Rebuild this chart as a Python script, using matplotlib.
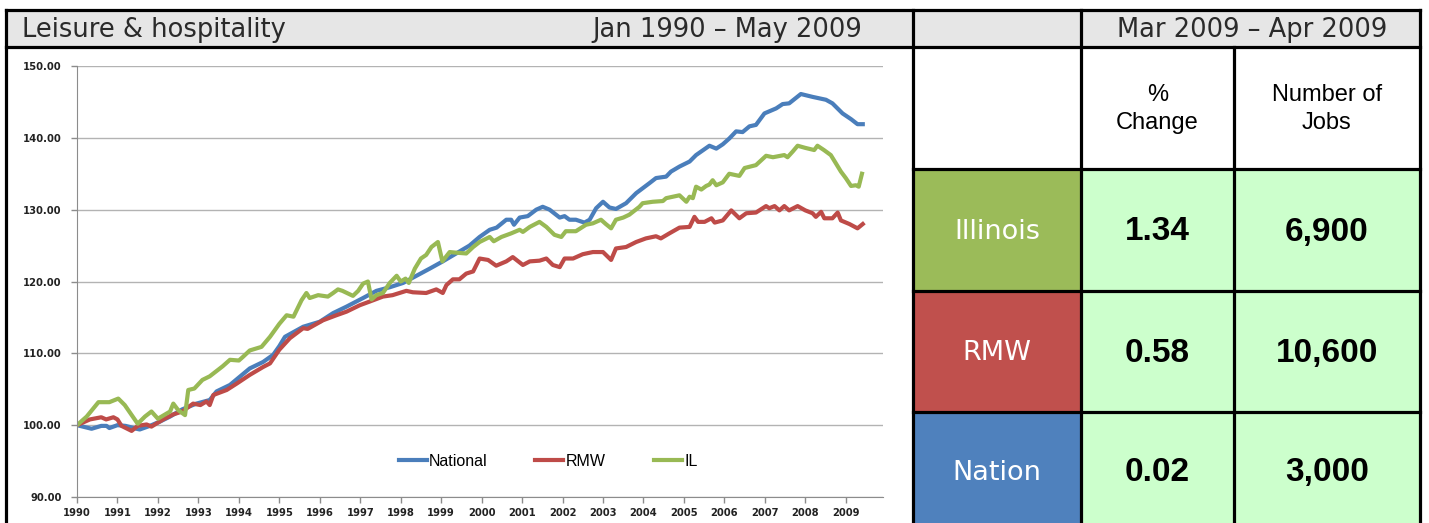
import matplotlib
matplotlib.use("Agg")
import matplotlib.pyplot as plt
from matplotlib.patches import Rectangle

# --- data (index, Jan 1990 = 100) ---
nat_years = [1990.0, 1990.36, 1990.6, 1990.73, 1990.8, 1991.0, 1991.2, 1991.47, 1991.55, 1991.8,
             1992.05, 1992.3, 1992.6, 1992.95, 1993.28, 1993.45, 1993.78, 1994.27, 1994.6, 1994.85,
             1995.0, 1995.14, 1995.59, 1996.0, 1996.33, 1996.66, 1997.07, 1997.4, 1997.73, 1998.06,
             1998.39, 1998.72, 1999.04, 1999.37, 1999.7, 1999.95, 2000.2, 2000.37, 2000.61, 2000.73,
             2000.8, 2000.94, 2001.14, 2001.35, 2001.51, 2001.68, 2001.93, 2002.05, 2002.17, 2002.33,
             2002.54, 2002.67, 2002.83, 2003.0, 2003.16, 2003.32, 2003.57, 2003.82, 2004.15, 2004.31,
             2004.56, 2004.68, 2004.89, 2005.14, 2005.3, 2005.63, 2005.8, 2005.96, 2006.12, 2006.29,
             2006.45, 2006.62, 2006.78, 2006.99, 2007.28, 2007.44, 2007.6, 2007.89, 2008.18, 2008.51,
             2008.67, 2008.92, 2009.13, 2009.29, 2009.42]
nat_vals = [100.0, 99.5, 99.9, 99.9, 99.6, 100.0, 99.9, 99.5, 99.4, 99.9,
            100.5, 101.2, 102.2, 103.0, 103.5, 104.7, 105.6, 107.9, 108.8, 109.8,
            111.0, 112.3, 113.7, 114.4, 115.6, 116.5, 117.7, 118.7, 119.2, 119.8,
            120.8, 121.8, 122.8, 123.9, 125.0, 126.2, 127.2, 127.5, 128.6, 128.6,
            127.9, 128.9, 129.1, 130.0, 130.4, 130.0, 128.9, 129.1, 128.6, 128.6,
            128.2, 128.6, 130.2, 131.1, 130.3, 130.1, 130.9, 132.3, 133.7, 134.4,
            134.6, 135.3, 136.0, 136.7, 137.6, 138.9, 138.5, 139.1, 139.9, 140.9,
            140.8, 141.6, 141.8, 143.4, 144.1, 144.7, 144.8, 146.1, 145.7, 145.3,
            144.8, 143.4, 142.6, 141.9, 141.9]

rmw_years = [1990.0, 1990.32, 1990.6, 1990.72, 1990.9, 1991.0, 1991.1, 1991.35, 1991.5, 1991.72,
             1991.84, 1992.13, 1992.38, 1992.6, 1992.87, 1993.05, 1993.2, 1993.28, 1993.37, 1993.7,
             1993.95, 1994.27, 1994.6, 1994.77, 1995.0, 1995.26, 1995.59, 1995.7, 1996.08, 1996.41,
             1996.66, 1996.99, 1997.23, 1997.56, 1997.8, 1998.14, 1998.3, 1998.63, 1998.88, 1999.04,
             1999.13, 1999.29, 1999.45, 1999.62, 1999.79, 1999.95, 2000.16, 2000.36, 2000.61, 2000.77,
             2001.02, 2001.19, 2001.43, 2001.6, 2001.76, 2001.93, 2002.05, 2002.26, 2002.5, 2002.75,
             2003.0, 2003.2, 2003.32, 2003.57, 2003.82, 2004.06, 2004.31, 2004.43, 2004.64, 2004.89,
             2005.14, 2005.26, 2005.35, 2005.51, 2005.68, 2005.76, 2005.96, 2006.17, 2006.37, 2006.54,
             2006.78, 2007.03, 2007.11, 2007.24, 2007.36, 2007.48, 2007.6, 2007.81, 2008.0, 2008.18,
             2008.26, 2008.39, 2008.47, 2008.67, 2008.8, 2008.88, 2009.09, 2009.29, 2009.42]
rmw_vals = [100.0, 100.8, 101.1, 100.8, 101.1, 100.8, 99.9, 99.2, 99.9, 100.1,
            99.8, 100.8, 101.5, 101.9, 103.0, 102.8, 103.3, 102.8, 104.2, 104.9,
            105.8, 107.0, 108.1, 108.6, 110.5, 112.1, 113.5, 113.4, 114.6, 115.3,
            115.8, 116.7, 117.2, 117.9, 118.1, 118.7, 118.5, 118.4, 118.9, 118.4,
            119.5, 120.3, 120.3, 121.1, 121.4, 123.2, 123.0, 122.2, 122.8, 123.4,
            122.3, 122.8, 122.9, 123.2, 122.3, 122.0, 123.2, 123.2, 123.8, 124.1,
            124.1, 123.0, 124.6, 124.8, 125.5, 126.0, 126.3, 126.0, 126.7, 127.5,
            127.6, 129.0, 128.3, 128.3, 128.8, 128.2, 128.5, 129.9, 128.8, 129.5,
            129.6, 130.5, 130.2, 130.5, 129.9, 130.5, 129.9, 130.5, 129.9, 129.5,
            129.0, 129.7, 128.8, 128.8, 129.6, 128.5, 128.0, 127.4, 128.0]

il_years = [1990.0, 1990.24, 1990.53, 1990.8, 1991.02, 1991.18, 1991.5, 1991.68, 1991.84, 1992.0,
            1992.3, 1992.38, 1992.5, 1992.67, 1992.75, 1992.9, 1993.1, 1993.28, 1993.6, 1993.78,
            1994.0, 1994.1, 1994.27, 1994.56, 1994.77, 1995.0, 1995.18, 1995.35, 1995.55, 1995.67,
            1995.75, 1995.96, 1996.2, 1996.33, 1996.45, 1996.56, 1996.82, 1996.95, 1997.07, 1997.19,
            1997.28, 1997.4, 1997.56, 1997.73, 1997.9, 1998.0, 1998.12, 1998.2, 1998.35, 1998.5,
            1998.63, 1998.76, 1998.92, 1999.03, 1999.21, 1999.4, 1999.62, 1999.79, 1999.95, 2000.2,
            2000.3, 2000.49, 2000.73, 2000.94, 2001.02, 2001.19, 2001.43, 2001.6, 2001.8, 2001.97,
            2002.08, 2002.33, 2002.58, 2002.75, 2002.95, 2003.07, 2003.2, 2003.32, 2003.5, 2003.65,
            2003.9, 2003.98, 2004.23, 2004.48, 2004.56, 2004.89, 2005.06, 2005.14, 2005.22, 2005.3,
            2005.43, 2005.55, 2005.63, 2005.71, 2005.8, 2005.96, 2006.12, 2006.37, 2006.5, 2006.78,
            2007.03, 2007.2, 2007.48, 2007.56, 2007.69, 2007.81, 2008.0, 2008.22, 2008.3, 2008.46,
            2008.63, 2008.75, 2008.88, 2009.0, 2009.13, 2009.25, 2009.32, 2009.4]
il_vals = [100.0, 101.2, 103.2, 103.2, 103.7, 102.8, 100.2, 101.2, 101.9, 100.9,
           101.9, 103.0, 102.1, 101.4, 104.9, 105.1, 106.3, 106.8, 108.2, 109.1,
           109.0, 109.5, 110.4, 110.9, 112.3, 114.1, 115.3, 115.1, 117.4, 118.4,
           117.7, 118.1, 117.9, 118.4, 118.9, 118.7, 118.0, 118.7, 119.7, 120.0,
           117.5, 118.1, 118.4, 119.8, 120.8, 120.0, 120.4, 119.8, 121.8, 123.2,
           123.7, 124.8, 125.5, 122.8, 124.1, 124.0, 123.9, 124.8, 125.5, 126.2,
           125.6, 126.2, 126.7, 127.2, 126.9, 127.6, 128.3, 127.6, 126.5, 126.2,
           127.0, 127.0, 127.9, 128.1, 128.6, 128.0, 127.4, 128.6, 128.9, 129.3,
           130.4, 130.9, 131.1, 131.2, 131.6, 132.0, 131.1, 131.8, 131.6, 133.2,
           132.8, 133.3, 133.5, 134.1, 133.4, 133.8, 135.0, 134.7, 135.8, 136.2,
           137.5, 137.3, 137.6, 137.3, 138.1, 138.9, 138.6, 138.3, 138.9, 138.3,
           137.6, 136.5, 135.3, 134.4, 133.3, 133.4, 133.2, 135.0]

year_ticks = list(range(1990, 2010))
y_ticks = [90, 100, 110, 120, 130, 140, 150]

title = "Leisure & hospitality"
chart_period = "Jan 1990 \u2013 May 2009"
table_period = "Mar 2009 \u2013 Apr 2009"
col_heads = ["%\nChange", "Number of\nJobs"]
regions = ["Illinois", "RMW", "Nation"]
pct_change = ["1.34", "0.58", "0.02"]
num_jobs = ["6,900", "10,600", "3,000"]

C_NAT, C_RMW, C_IL = "#4a7ebb", "#be4b48", "#98b954"
region_colors = ["#9bbb59", "#c0504d", "#4f81bd"]

W, H = 1429, 523
fig = plt.figure(figsize=(W / 100, H / 100), dpi=100)

# background layer in pixel coordinates (y down)
bg = fig.add_axes([0, 0, 1, 1])
bg.set_xlim(0, W)
bg.set_ylim(H, 0)
bg.axis("off")

X0, X1, X2, X3, XR = 6, 913, 1081, 1234, 1420
Y0, Y1 = 10, 47
ROWS = [169, 291, 412, H + 5]

bg.add_patch(Rectangle((X0, Y0), XR - X0, Y1 - Y0, facecolor="#e6e6e6", edgecolor="none"))
for i, c in enumerate(region_colors):
    bg.add_patch(Rectangle((X1, ROWS[i]), X2 - X1, ROWS[i + 1] - ROWS[i], facecolor=c, edgecolor="none"))
    bg.add_patch(Rectangle((X2, ROWS[i]), XR - X2, ROWS[i + 1] - ROWS[i], facecolor="#ccffcc", edgecolor="none"))

lk = dict(color="black", lw=2.3, solid_capstyle="projecting")
bg.plot([X0, XR], [Y0, Y0], **lk)
bg.plot([X0, XR], [Y1, Y1], **lk)
bg.plot([X0, X0], [Y0, H + 5], **lk)
bg.plot([X1, X1], [Y0, H + 5], **lk)
bg.plot([X2, X2], [Y0, H + 5], **lk)
bg.plot([X3, X3], [Y1, H + 5], **lk)
bg.plot([XR, XR], [Y0, H + 5], **lk)
for r in ROWS[:3]:
    bg.plot([X1, XR], [r, r], **lk)

hdr = dict(fontsize=18.5, color="#2a2a2a", va="center", family="DejaVu Sans")
bg.text(22, 30, title, ha="left", **hdr)
bg.text(862, 30, chart_period, ha="right", **hdr)
bg.text((X2 + XR) / 2 + 2, 30, table_period, ha="center", **hdr)

narrow = ["Liberation Sans Narrow", "Liberation Sans"]
for k, xc in enumerate([(X2 + X3) / 2, (X3 + XR) / 2]):
    bg.text(xc, 109, col_heads[k], fontsize=17, ha="center", va="center", family=narrow,
            linespacing=1.4)
for i in range(3):
    yc = (ROWS[i] + min(ROWS[i + 1], H + 2)) / 2 + (2 if i < 2 else 4)
    bg.text((X1 + X2) / 2, yc, regions[i], fontsize=19.5, color="white", ha="center", va="center",
            family="DejaVu Sans")
    bg.text((X2 + X3) / 2, yc, pct_change[i], fontsize=24, weight="bold", ha="center", va="center",
            family=narrow)
    bg.text((X3 + XR) / 2, yc, num_jobs[i], fontsize=24, weight="bold", ha="center", va="center",
            family=narrow)

# line chart
ax = fig.add_axes([77 / W, 1 - 497 / H, 806 / W, 431 / H])
ax.set_facecolor("none")
ax.plot(nat_years, nat_vals, color=C_NAT, lw=3.0, label="National", solid_joinstyle="round")
ax.plot(rmw_years, rmw_vals, color=C_RMW, lw=3.0, label="RMW", solid_joinstyle="round")
ax.plot(il_years, il_vals, color=C_IL, lw=3.0, label="IL", solid_joinstyle="round")

ax.set_xlim(1990, 2009.92)
ax.set_ylim(90, 150)
ax.set_yticks(y_ticks)
ax.set_yticklabels([f"{v:.2f}" for v in y_ticks])
ax.set_xticks(year_ticks)
ax.set_xticklabels([str(y) for y in year_ticks])
ax.grid(axis="y", color="#b3b3b3", lw=1)
ax.set_axisbelow(True)
for s in ["top", "right"]:
    ax.spines[s].set_visible(False)
for s in ["left", "bottom"]:
    ax.spines[s].set_color("#8c8c8c")
ax.tick_params(axis="both", colors="#8c8c8c", labelcolor="#222222", length=4, width=1)
ax.tick_params(axis="y", pad=7)
ax.tick_params(axis="x", pad=4)
for lab in ax.get_xticklabels() + ax.get_yticklabels():
    lab.set_fontsize(7.2)
    lab.set_fontweight("bold")

ax.legend(loc="center", bbox_to_anchor=((548 - 77) / 806, (497 - 461) / 431), ncol=3,
          frameon=False, handlelength=1.75, handletextpad=0.15, columnspacing=3.0,
          prop={"family": "Liberation Sans", "size": 11.5})

fig.savefig("out.png", dpi=100)
